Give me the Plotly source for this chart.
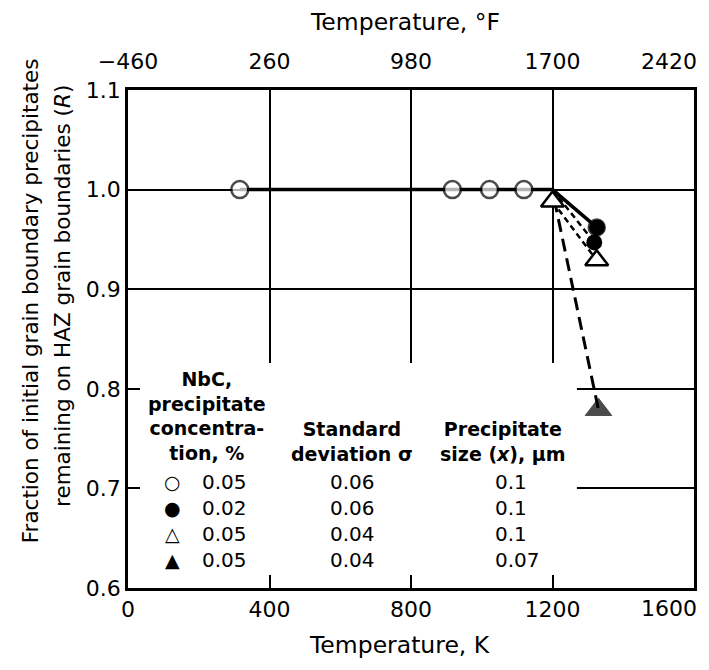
import plotly.graph_objects as go

# Temperature (K) and fraction remaining (R)
t_open_circle = [316, 917, 1022, 1119, 1200, 1325]
r_open_circle = [1.0, 1.0, 1.0, 1.0, 1.0, 0.962]

t_filled_circle = [1200, 1318, 1326]
r_filled_circle = [1.0, 0.947, 0.962]

t_open_tri = [1200, 1325]
r_open_tri = [0.988, 0.929]

t_filled_tri = [1205, 1330]
r_filled_tri = [0.99, 0.779]

k_ticks = [0, 400, 800, 1200, 1600]
f_ticks = ["\u2212460", "260", "980", "1700", "2420"]
r_ticks = [0.6, 0.7, 0.8, 0.9, 1.0, 1.1]

# legend table rows
conc = ["0.05", "0.02", "0.05", "0.05"]
sigma = ["0.06", "0.06", "0.04", "0.04"]
size_um = ["0.1", "0.1", "0.1", "0.07"]
symbols = ["\u25cb", "\u25cf", "\u25b3", "\u25b2"]

FONT = "DejaVu Sans"

fig = go.Figure()

# open circles, solid line
fig.add_trace(go.Scatter(
    x=t_open_circle, y=r_open_circle, mode="lines+markers",
    line=dict(color="black", width=3.5),
    marker=dict(symbol="circle", size=[17, 17, 17, 17, 0, 16], color="white",
                line=dict(color="black", width=2.5)),
))
# filled circles
fig.add_trace(go.Scatter(
    x=t_filled_circle[:2], y=r_filled_circle[:2], mode="lines",
    line=dict(color="black", width=2.5, dash="6px,4px"),
))
fig.add_trace(go.Scatter(
    x=t_filled_circle[1:], y=r_filled_circle[1:], mode="markers",
    marker=dict(symbol="circle", size=16, color="black"),
))
# filled triangle, long dashes
fig.add_trace(go.Scatter(
    x=t_filled_tri, y=r_filled_tri, mode="lines+markers",
    line=dict(color="black", width=3, dash="13px,7px"),
    marker=dict(symbol="triangle-up", size=[0, 23], color="black",
                line=dict(color="black", width=1)),
))
# open triangle
fig.add_trace(go.Scatter(
    x=t_open_tri, y=r_open_tri, mode="lines+markers",
    line=dict(color="black", width=2.5, dash="6px,4px"),
    marker=dict(symbol="triangle-up", size=20, color="white",
                line=dict(color="black", width=2.5)),
))
# keep top axis alive
fig.add_trace(go.Scatter(x=k_ticks, y=[None] * len(k_ticks), xaxis="x2",
                         mode="lines", hoverinfo="skip"))

# last labels sit inside the right edge, drawn as annotations below
ktext = [str(v) for v in k_ticks[:-1]] + [""]
ftext = list(f_ticks[:-1]) + [""]

# page body adds an 8px offset, so the figure is sized 8px smaller
fig.update_layout(
    width=701, height=662,
    margin=dict(l=120, r=15, t=82, b=82),
    paper_bgcolor="white", plot_bgcolor="white",
    showlegend=False,
    font=dict(family=FONT, size=22, color="black"),
    xaxis=dict(
        range=[0, 1600], tickvals=k_ticks, ticktext=ktext,
        ticks="inside", ticklen=13, tickwidth=2, tickcolor="black",
        showgrid=True, gridcolor="black", gridwidth=1.5,
        showline=True, linecolor="black", linewidth=2.5, mirror=True,
        zeroline=False, tickfont=dict(size=22), automargin=False,
    ),
    xaxis2=dict(
        range=[0, 1600], overlaying="x", side="top", anchor="y",
        tickvals=k_ticks, ticktext=ftext, ticks="",
        showgrid=False, zeroline=False, showline=False,
        tickfont=dict(size=22), ticklabelstandoff=16, automargin=False,
    ),
    yaxis=dict(
        range=[0.6, 1.1], tickvals=r_ticks, tickformat=".1f",
        ticks="inside", ticklen=12, tickwidth=2, tickcolor="black",
        showgrid=True, gridcolor="black", gridwidth=1.5,
        showline=True, linecolor="black", linewidth=2.5, mirror=True,
        zeroline=False, tickfont=dict(size=22), automargin=False,
    ),
)

# blank area under the table: hide grid lines there
fig.add_shape(type="rect", xref="x", yref="y", x0=0, x1=1269, y0=0.6, y1=0.826,
              fillcolor="white", line=dict(width=0), layer="between")

def ann(text, x, y, size=22, bold=False, xanchor="center", yanchor="middle",
        angle=0):
    if bold:
        text = "<b>" + text + "</b>"
    fig.add_annotation(text=text, x=x, y=y, xref="paper", yref="paper",
                       showarrow=False, xanchor=xanchor, yanchor=yanchor,
                       textangle=angle, font=dict(family=FONT, size=size,
                                                  color="black"))

ann(str(k_ticks[-1]), 1.008, -0.042, size=22, xanchor="right")
ann(f_ticks[-1], 1.008, 1.058, size=22, xanchor="right")

ann("Temperature, \u00b0F", 0.49, 1.136, size=23.5)
ann("Temperature, K", 0.48, -0.114, size=23.5)
ann("Fraction of initial grain boundary precipitates", -0.173, 0.576,
    size=21.5, angle=-90)
ann("remaining on HAZ grain boundaries (<i>R</i>)", -0.117, 0.586,
    size=21.5, angle=-90)

# table
ann("NbC,<br>precipitate<br>concentra-<br>tion, %", 0.14, 0.345, size=19,
    bold=True)
ann("Standard<br>deviation \u03c3", 0.396, 0.294, size=19, bold=True)
ann("Precipitate<br>size (<i>x</i>), \u00b5m", 0.6625, 0.294, size=19,
    bold=True)
row_y = [0.213, 0.161, 0.108, 0.056]
for i in range(4):
    ann(symbols[i], 0.0795, row_y[i], size=19)
    ann(conc[i], 0.127, row_y[i], size=20, xanchor="left")
    ann(sigma[i], 0.396, row_y[i], size=20)
    ann(size_um[i], 0.645, row_y[i], size=20, xanchor="left")

fig.write_html("out.html")
